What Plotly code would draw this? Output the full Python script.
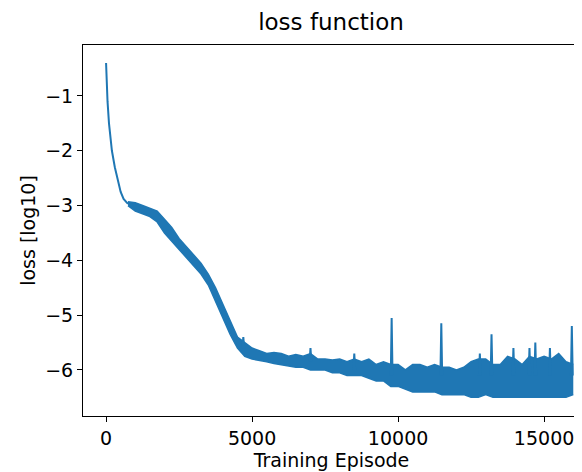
import plotly.graph_objects as go

# steep start of training
head_ep = [0, 20, 50, 100, 150, 200, 300, 400, 500, 600, 700, 750]
head_loss = [-0.4, -0.7, -1.1, -1.5, -1.8, -2.0, -2.3, -2.55, -2.75, -2.88, -2.95, -2.97]

# noisy part: upper / lower envelope, every 250 episodes
band_ep = list(range(750, 16001, 250))
loss_hi = [-2.93, -2.95, -3.0, -3.05, -3.1, -3.25, -3.4, -3.6, -3.75, -3.9, -4.05, -4.25,
           -4.5, -4.8, -5.1, -5.4, -5.5, -5.6, -5.65, -5.7, -5.68, -5.7, -5.75, -5.72,
           -5.75, -5.7, -5.8, -5.8, -5.82, -5.8, -5.85, -5.8, -5.85, -5.8, -5.9, -5.85,
           -5.9, -5.9, -6.0, -5.9, -5.9, -5.95, -5.9, -5.95, -5.95, -6.0, -5.95, -5.85,
           -5.8, -5.8, -5.9, -5.9, -5.75, -5.8, -5.9, -5.75, -5.8, -5.75, -5.8, -5.7,
           -5.85, -5.9]
loss_lo = [-3.0, -3.1, -3.15, -3.2, -3.3, -3.5, -3.65, -3.8, -3.95, -4.1, -4.25, -4.45,
           -4.75, -5.05, -5.35, -5.6, -5.75, -5.8, -5.82, -5.85, -5.88, -5.9, -5.92, -5.95,
           -5.95, -6.0, -6.0, -6.0, -6.05, -6.05, -6.1, -6.1, -6.1, -6.15, -6.2, -6.2,
           -6.3, -6.3, -6.35, -6.4, -6.4, -6.4, -6.4, -6.45, -6.45, -6.45, -6.45, -6.5,
           -6.5, -6.45, -6.5, -6.5, -6.5, -6.5, -6.5, -6.5, -6.5, -6.5, -6.5, -6.5,
           -6.5, -6.45]

# narrow spikes above the band
spike_ep = [4700, 7000, 8500, 9780, 11480, 12800, 13200, 13950, 14500, 14700, 15200, 15950]
spike_top = [-5.4, -5.6, -5.7, -5.05, -5.15, -5.7, -5.35, -5.6, -5.6, -5.5, -5.6, -5.2]
spike_base = [-5.6, -5.85, -6.0, -6.1, -6.1, -6.1, -6.1, -6.1, -6.1, -6.1, -6.1, -6.1]

blue = "#1f77b4"
sx, sy = [], []
for e, t, b in zip(spike_ep, spike_top, spike_base):
    sx += [e - 30, e, e + 30, None]
    sy += [b, t, b, None]

fig = go.Figure()
fig.add_trace(go.Scatter(x=head_ep, y=head_loss, mode="lines", line=dict(color=blue, width=2)))
fig.add_trace(go.Scatter(x=band_ep, y=loss_lo, mode="lines", line=dict(color=blue, width=1.5)))
fig.add_trace(go.Scatter(x=band_ep, y=loss_hi, mode="lines", line=dict(color=blue, width=1.5),
                         fill="tonexty", fillcolor=blue))
fig.add_trace(go.Scatter(x=sx, y=sy, mode="lines", line=dict(color=blue, width=2)))

axis = dict(showgrid=False, zeroline=False, showline=True, linecolor="black", linewidth=1,
            mirror=True, ticks="outside", ticklen=5, tickcolor="black", automargin=False,
            tickfont=dict(size=19, color="black"))
fig.update_xaxes(axis, range=[-790, 16230], tickvals=[0, 5000, 10000, 15000],
                 ticktext=["0", "5000", "10000", "15000"],
                 title=dict(text="Training Episode", font=dict(size=19, color="black"), standoff=0))
fig.update_yaxes(axis, range=[-6.84, -0.07], tickvals=[-1, -2, -3, -4, -5, -6],
                 ticktext=["\u22121", "\u22122", "\u22123", "\u22124", "\u22125", "\u22126"],
                 title=dict(text="loss [log10]", font=dict(size=19, color="black"), standoff=4))
fig.update_layout(width=582, height=472, autosize=False, plot_bgcolor="white", paper_bgcolor="white",
                  font=dict(family="DejaVu Sans"), showlegend=False,
                  margin=dict(l=75, r=10, t=37, b=64),
                  title=dict(text="loss function", x=0.555, xanchor="center",
                             y=0.97, yanchor="middle", font=dict(size=23, color="black")))
fig.write_html("out.html")
